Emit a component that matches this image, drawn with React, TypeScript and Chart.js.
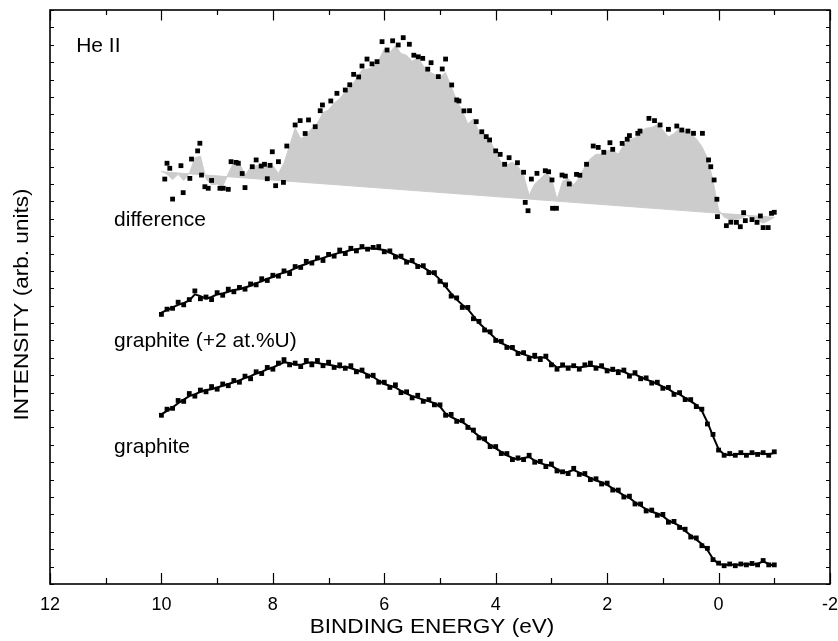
import React, { useEffect, useRef } from "react";
import { Chart, registerables } from "chart.js";

Chart.register(...registerables);

// Binding energy grid (eV) for the spectra
const energy = [10.0, 9.9, 9.8, 9.7, 9.6, 9.5, 9.4, 9.3, 9.2, 9.1, 9.0, 8.9, 8.8, 8.7, 8.6, 8.5, 8.4, 8.3, 8.2, 8.1, 8.0, 7.9, 7.8, 7.7, 7.6, 7.5, 7.4, 7.3, 7.2, 7.1, 7.0, 6.9, 6.8, 6.7, 6.6, 6.5, 6.4, 6.3, 6.2, 6.1, 6.0, 5.9, 5.8, 5.7, 5.6, 5.5, 5.4, 5.3, 5.2, 5.1, 5.0, 4.9, 4.8, 4.7, 4.6, 4.5, 4.4, 4.3, 4.2, 4.1, 4.0, 3.9, 3.8, 3.7, 3.6, 3.5, 3.4, 3.3, 3.2, 3.1, 3.0, 2.9, 2.8, 2.7, 2.6, 2.5, 2.4, 2.3, 2.2, 2.1, 2.0, 1.9, 1.8, 1.7, 1.6, 1.5, 1.4, 1.3, 1.2, 1.1, 1.0, 0.9, 0.8, 0.7, 0.6, 0.5, 0.4, 0.3, 0.2, 0.1, 0.0, -0.1, -0.2, -0.3, -0.4, -0.5, -0.6, -0.7, -0.8, -0.9, -1.0];

// Smoothed difference spectrum (grey area boundary)
const differenceSmooth = [
  23.75, 23.55, 23.25, 23.55, 23.2, 23.6, 24.5, 24.6, 23.3, 22.95,
  23.0, 22.85, 23.6, 24.25, 24.2, 23.5, 23.95, 24.05, 24.1, 24.0,
  24.05, 23.6, 24.2, 25.2, 26.2, 25.6, 25.8, 26.2, 26.5, 27.1,
  27.25, 27.65, 27.9, 28.3, 28.6, 29.05, 29.55, 29.6, 29.7, 30.1,
  30.75, 30.55, 30.95, 30.5, 30.4, 30.05, 30.25, 29.8, 29.45, 29.3,
  29.15, 29.4, 28.6, 27.8, 27.2, 26.45, 26.75, 26.0, 25.8, 25.5,
  24.8, 24.25, 24.1, 24.25, 24.0, 23.5, 22.35, 23.0, 23.3, 23.6,
  23.35, 22.1, 23.15, 23.3, 22.95, 23.35, 24.0, 24.45, 24.7, 24.7,
  24.9, 24.95, 24.7, 25.25, 25.55, 25.65, 26.0, 26.2, 26.25, 26.4,
  26.1, 25.7, 25.9, 26.2, 26.05, 25.9, 25.6, 25.15, 24.5, 23.2,
  21.5, 21.1, 20.95, 20.95, 21.0, 21.2, 21.05, 20.9, 20.75, 20.9, 21.08
];

// Straight baseline under the difference spectrum
const baselineEnergy = [10.0, -1.0];
const baselineIntensity = [23.7, 21.08];

// Difference spectrum data points
const diffMarkerEnergy = [9.94, 9.9, 9.85, 9.8, 9.65, 9.61, 9.49, 9.46, 9.35, 9.31, 9.28, 9.22, 9.16, 9.1, 8.95, 8.89, 8.8, 8.75, 8.66, 8.62, 8.55, 8.5, 8.37, 8.3, 8.21, 8.15, 8.1, 8.05, 8.01, 7.95, 7.9, 7.81, 7.75, 7.6, 7.51, 7.42, 7.36, 7.24, 7.15, 7.11, 6.96, 6.85, 6.7, 6.62, 6.55, 6.46, 6.4, 6.31, 6.22, 6.13, 6.04, 5.95, 5.85, 5.75, 5.66, 5.55, 5.47, 5.39, 5.31, 5.22, 5.16, 5.03, 4.96, 4.9, 4.79, 4.7, 4.66, 4.57, 4.47, 4.35, 4.25, 4.17, 4.11, 4.0, 3.92, 3.84, 3.76, 3.61, 3.5, 3.47, 3.42, 3.36, 3.26, 3.11, 3.05, 2.99, 2.98, 2.91, 2.81, 2.75, 2.68, 2.55, 2.49, 2.37, 2.25, 2.16, 2.06, 1.95, 1.9, 1.73, 1.64, 1.6, 1.45, 1.41, 1.25, 1.15, 1.05, 0.9, 0.75, 0.66, 0.55, 0.45, 0.29, 0.18, 0.14, 0.08, 0.03, 0.02, -0.14, -0.22, -0.32, -0.39, -0.45, -0.48, -0.6, -0.69, -0.75, -0.8, -0.89, -0.95, -1.0];
const diffMarkerIntensity = [23.28, 24.19, 23.9, 22.13, 24.05, 22.5, 23.32, 24.43, 24.9, 25.34, 23.51, 22.84, 22.75, 23.2, 22.75, 22.75, 22.69, 24.28, 24.24, 24.19, 23.6, 22.79, 23.99, 24.38, 24.03, 24.13, 23.3, 24.07, 24.85, 22.9, 24.28, 23.09, 25.18, 26.39, 26.64, 25.9, 26.68, 26.29, 27.21, 27.54, 27.77, 28.21, 28.4, 28.7, 29.3, 29.15, 29.78, 30.18, 29.9, 30.03, 31.18, 30.7, 31.23, 30.99, 31.41, 31.03, 30.4, 30.31, 30.22, 29.6, 29.97, 29.17, 29.61, 30.18, 28.69, 27.83, 27.77, 27.2, 27.21, 26.58, 26.0, 25.72, 25.53, 24.9, 24.7, 24.13, 24.51, 24.22, 23.67, 21.94, 21.46, 23.28, 23.61, 23.76, 23.7, 23.23, 21.6, 21.6, 23.51, 23.45, 23.0, 23.55, 23.5, 24.13, 25.18, 25.1, 24.82, 25.37, 24.99, 25.33, 25.57, 25.78, 25.91, 26.04, 26.77, 26.64, 26.39, 26.14, 26.33, 26.1, 26.04, 25.91, 25.91, 24.38, 23.99, 23.23, 22.12, 21.12, 20.6, 20.8, 20.79, 20.54, 21.35, 20.89, 20.95, 20.79, 21.16, 20.49, 20.49, 21.31, 21.37];

// graphite (+2 at.%U): smoothed curve and data points
const uraniumSmooth = [
  15.6, 15.75, 15.9, 16.05, 16.15, 16.3, 16.65, 16.55, 16.4, 16.5,
  16.65, 16.7, 16.8, 16.9, 16.95, 17.05, 17.15, 17.3, 17.4, 17.55,
  17.65, 17.8, 17.9, 18.0, 18.15, 18.3, 18.4, 18.55, 18.65, 18.75,
  18.85, 18.95, 19.05, 19.1, 19.2, 19.25, 19.3, 19.3, 19.3, 19.25,
  19.2, 19.05, 18.9, 18.75, 18.6, 18.5, 18.35, 18.2, 18.0, 17.8,
  17.5, 17.1, 16.7, 16.35, 16.05, 15.8, 15.4, 15.0, 14.7, 14.4,
  14.1, 13.85, 13.7, 13.5, 13.35, 13.2, 13.1, 13.0, 13.05, 13.0,
  12.7, 12.45, 12.5, 12.5, 12.5, 12.45, 12.5, 12.55, 12.5, 12.45,
  12.35, 12.25, 12.3, 12.2, 12.05, 12.05, 11.9, 11.75, 11.65, 11.5,
  11.35, 11.2, 11.0, 10.9, 10.7, 10.5, 10.3, 9.95, 9.3, 8.5,
  7.75, 7.45, 7.4, 7.45, 7.5, 7.45, 7.5, 7.5, 7.5, 7.45, 7.55
];
const uraniumPoints = [
  15.5, 15.8, 15.85, 16.2, 16.05, 16.35, 16.85, 16.4, 16.5, 16.35,
  16.75, 16.6, 16.95, 16.8, 17.05, 16.95, 17.25, 17.2, 17.55, 17.45,
  17.75, 17.7, 18.0, 17.85, 18.25, 18.2, 18.55, 18.45, 18.75, 18.6,
  18.95, 18.85, 19.2, 19.0, 19.3, 19.15, 19.4, 19.25, 19.35, 19.4,
  19.1, 19.15, 18.8, 18.85, 18.5, 18.6, 18.25, 18.3, 17.9, 17.9,
  17.4, 17.2, 16.55, 16.45, 15.9, 15.9, 15.25, 15.1, 14.6, 14.5,
  14.0, 13.95, 13.6, 13.6, 13.25, 13.3, 12.95, 13.15, 12.9, 13.1,
  12.6, 12.35, 12.6, 12.4, 12.55, 12.35, 12.6, 12.7, 12.4, 12.55,
  12.25, 12.35, 12.15, 12.3, 11.95, 12.15, 11.8, 11.85, 11.55, 11.6,
  11.25, 11.3, 10.9, 11.0, 10.6, 10.6, 10.2, 10.05, 9.2, 8.6,
  7.7, 7.4, 7.5, 7.4, 7.55, 7.4, 7.55, 7.45, 7.55, 7.4, 7.6
];

// graphite: smoothed curve and data points
const graphiteSmooth = [
  9.75, 9.95, 10.15, 10.4, 10.6, 10.8, 10.9, 11.05, 11.15, 11.2,
  11.3, 11.4, 11.5, 11.6, 11.7, 11.85, 11.95, 12.1, 12.2, 12.35,
  12.45, 12.6, 12.75, 12.7, 12.6, 12.6, 12.7, 12.75, 12.7, 12.65,
  12.6, 12.55, 12.45, 12.5, 12.4, 12.3, 12.2, 12.05, 11.9, 11.7,
  11.5, 11.4, 11.3, 11.1, 10.95, 10.8, 10.7, 10.6, 10.5, 10.4,
  10.2, 9.8, 9.6, 9.45, 9.3, 9.1, 8.75, 8.5, 8.25, 8.0,
  7.8, 7.6, 7.4, 7.25, 7.15, 7.25, 7.3, 7.1, 6.95, 6.85,
  6.8, 6.6, 6.4, 6.45, 6.55, 6.4, 6.25, 6.1, 5.95, 5.85,
  5.7, 5.5, 5.3, 5.1, 4.95, 4.7, 4.5, 4.3, 4.15, 4.05,
  3.9, 3.65, 3.5, 3.35, 3.05, 2.8, 2.55, 2.3, 1.95, 1.45,
  1.15, 1.1, 1.1, 1.1, 1.12, 1.15, 1.12, 1.15, 1.3, 1.15, 1.05
];
const graphitePoints = [
  9.7, 10.05, 10.1, 10.55, 10.5, 10.95, 10.8, 11.15, 11.05, 11.35,
  11.2, 11.5, 11.4, 11.7, 11.6, 11.95, 11.8, 12.2, 12.1, 12.45,
  12.35, 12.7, 12.9, 12.6, 12.7, 12.5, 12.85, 12.6, 12.85, 12.55,
  12.75, 12.45, 12.6, 12.4, 12.55, 12.2, 12.3, 11.95, 12.0, 11.6,
  11.6, 11.3, 11.45, 11.0, 11.05, 10.7, 10.85, 10.5, 10.6, 10.3,
  10.3, 9.7, 9.75, 9.35, 9.4, 9.0, 8.85, 8.4, 8.35, 7.9,
  7.9, 7.5, 7.5, 7.15, 7.25, 7.15, 7.4, 7.0, 7.05, 6.75,
  6.9, 6.5, 6.45, 6.35, 6.65, 6.3, 6.35, 6.0, 6.05, 5.75,
  5.8, 5.4, 5.4, 5.0, 5.05, 4.6, 4.6, 4.2, 4.25, 3.95,
  4.0, 3.55, 3.6, 3.25, 3.15, 2.7, 2.65, 2.2, 2.05, 1.4,
  1.2, 1.05, 1.15, 1.05, 1.15, 1.1, 1.18, 1.1, 1.35, 1.1, 1.1
];

// Axes
const xTickValues = [12, 11, 10, 9, 8, 7, 6, 5, 4, 3, 2, 1, 0, -1, -2];
const xTickLabels = [12, 10, 8, 6, 4, 2, 0, -2];
const yTickValues = [0, 1, 2, 3, 4, 5, 6, 7, 8, 9, 10, 11, 12, 13, 14, 15, 16, 17, 18, 19, 20, 21, 22, 23, 24, 25, 26, 27, 28, 29, 30, 31, 32, 33];
const xTitle = "BINDING ENERGY (eV)";
const yTitle = "INTENSITY (arb. units)";

// Curve labels, anchored in data coordinates
const curveLabelText = ["He II", "difference", "graphite (+2 at.%U)", "graphite"];
const curveLabelEnergy = [11.53, 10.85, 10.85, 10.85];
const curveLabelIntensity = [30.57, 20.58, 13.64, 7.51];

const FONT = '"Liberation Sans", Arial, Helvetica, sans-serif';
const GREY = "#cccccc";

const xy = (xs: number[], ys: number[]) => xs.map((x, i) => ({ x, y: ys[i] }));

const framePlugin = {
  id: "frameAndText",
  afterDatasetsDraw(chart: any) {
    const { ctx, chartArea: a, scales } = chart;
    const xs = scales.x;
    const ys = scales.y;
    ctx.save();
    ctx.strokeStyle = "#000";
    ctx.lineWidth = 1.6;
    ctx.strokeRect(a.left, a.top, a.right - a.left, a.bottom - a.top);

    ctx.lineWidth = 1.2;
    ctx.beginPath();
    for (const v of xTickValues) {
      const px = Math.round(xs.getPixelForValue(v)) + 0.5;
      const major = xTickLabels.includes(v);
      ctx.moveTo(px, a.bottom);
      ctx.lineTo(px, a.bottom - (major ? 11 : 6));
      ctx.moveTo(px, a.top);
      ctx.lineTo(px, a.top + (major ? 10.5 : 5));
    }
    for (const v of yTickValues) {
      const py = Math.round(ys.getPixelForValue(v)) + 0.5;
      ctx.moveTo(a.left, py);
      ctx.lineTo(a.left + 4, py);
      ctx.moveTo(a.right, py);
      ctx.lineTo(a.right - 4, py);
    }
    ctx.stroke();

    ctx.fillStyle = "#000";
    ctx.textBaseline = "alphabetic";
    ctx.textAlign = "center";
    ctx.font = `18px ${FONT}`;
    for (const v of xTickLabels) {
      ctx.fillText(String(v), xs.getPixelForValue(v), a.bottom + 25.5);
    }

    ctx.font = `21px ${FONT}`;
    ctx.save();
    ctx.translate(432, a.bottom + 48.5);
    ctx.scale(1.075, 1);
    ctx.fillText(xTitle, 0, 0);
    ctx.restore();

    ctx.save();
    ctx.translate(28, 304.5);
    ctx.rotate(-Math.PI / 2);
    ctx.scale(1.075, 1);
    ctx.fillText(yTitle, 0, 0);
    ctx.restore();

    ctx.textAlign = "left";
    ctx.font = `21px ${FONT}`;
    curveLabelText.forEach((t, i) => {
      ctx.fillText(t, xs.getPixelForValue(curveLabelEnergy[i]), ys.getPixelForValue(curveLabelIntensity[i]));
    });
    ctx.restore();
  },
};

export default function App() {
  const canvasRef = useRef<HTMLCanvasElement | null>(null);

  useEffect(() => {
    const canvas = canvasRef.current;
    if (!canvas) return;
    const lineCommon = { showLine: true, pointRadius: 0, pointHoverRadius: 0, tension: 0 };
    const markerCommon = {
      showLine: false,
      pointStyle: "rect",
      pointRadius: 3.4,
      pointHoverRadius: 3.4,
      pointBorderWidth: 0,
      pointBackgroundColor: "#000",
      pointBorderColor: "#000",
      borderColor: "#000",
      backgroundColor: "#000",
    };
    const chart = new Chart(canvas, {
      type: "line",
      data: {
        datasets: [
          {
            ...lineCommon,
            label: "baseline",
            data: xy(baselineEnergy, baselineIntensity),
            borderColor: GREY,
            borderWidth: 1,
            fill: false,
            order: 10,
          },
          {
            ...lineCommon,
            label: "difference (smoothed)",
            data: xy(energy, differenceSmooth),
            borderColor: GREY,
            backgroundColor: GREY,
            borderWidth: 1,
            fill: "-1",
            order: 9,
          },
          {
            ...lineCommon,
            label: "graphite (+2 at.%U) fit",
            data: xy(energy, uraniumSmooth),
            borderColor: "#000",
            borderWidth: 2,
            fill: false,
            order: 5,
          },
          {
            ...lineCommon,
            label: "graphite fit",
            data: xy(energy, graphiteSmooth),
            borderColor: "#000",
            borderWidth: 2,
            fill: false,
            order: 5,
          },
          {
            ...markerCommon,
            label: "difference",
            data: xy(diffMarkerEnergy, diffMarkerIntensity),
            fill: false,
            order: 1,
          },
          {
            ...markerCommon,
            label: "graphite (+2 at.%U)",
            data: xy(energy, uraniumPoints),
            fill: false,
            order: 1,
          },
          {
            ...markerCommon,
            label: "graphite",
            data: xy(energy, graphitePoints),
            fill: false,
            order: 1,
          },
        ],
      },
      options: {
        animation: false,
        responsive: false,
        devicePixelRatio: 1,
        events: [],
        layout: { padding: { left: 50, right: 8, top: 10, bottom: 57 } },
        plugins: {
          legend: { display: false },
          tooltip: { enabled: false },
          title: { display: false },
        },
        scales: {
          x: { type: "linear", reverse: true, min: -2, max: 12, display: false },
          y: { type: "linear", min: 0, max: 33, display: false },
        },
      },
      plugins: [framePlugin],
    } as any);
    return () => chart.destroy();
  }, []);

  return (
    <div style={{ position: "absolute", left: 0, top: 0, width: 838, height: 641, background: "#fff" }}>
      <canvas ref={canvasRef} width={838} height={641} style={{ display: "block", width: 838, height: 641 }} />
    </div>
  );
}
